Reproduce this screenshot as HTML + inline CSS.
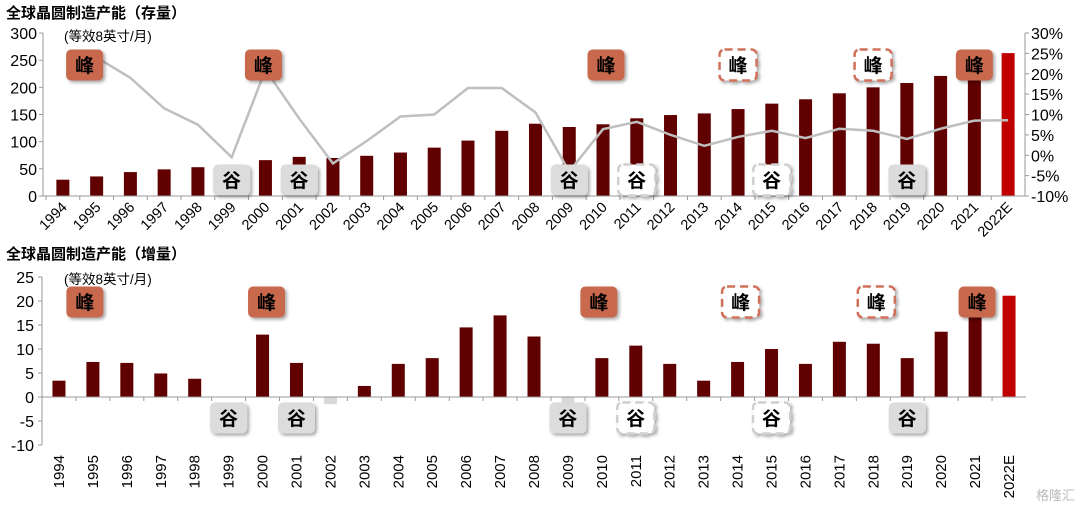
<!DOCTYPE html>
<html><head><meta charset="utf-8">
<style>
body{margin:0;background:#fff;width:1080px;height:508px;overflow:hidden}
svg{display:block;font-family:"Liberation Sans","Noto Sans CJK SC",sans-serif}
</style></head>
<body>
<svg id="c" width="1080" height="508">
<defs>
<filter id="sh" x="-20%" y="-20%" width="150%" height="150%"><feDropShadow dx="2" dy="2" stdDeviation="1.5" flood-color="#000" flood-opacity="0.35"/></filter>
</defs>
<text x="6" y="18" font-size="15" font-weight="bold" fill="#000">全球晶圆制造产能（存量）</text>
<text x="64" y="41" font-size="13.5" fill="#000">(等效8英寸/月)</text>
<text x="6" y="259" font-size="15" font-weight="bold" fill="#000">全球晶圆制造产能（增量）</text>
<text x="64" y="284" font-size="13.5" fill="#000">(等效8英寸/月)</text>
<text x="1075" y="500" font-size="13" fill="#bbb" text-anchor="end">格隆汇</text>
</svg>
<script>
const years=["1994","1995","1996","1997","1998","1999","2000","2001","2002","2003","2004","2005","2006","2007","2008","2009","2010","2011","2012","2013","2014","2015","2016","2017","2018","2019","2020","2021","2022E"];
const stock=[30,36,44,49,53,55,66,72,70,74,80,89,102,120,133,127,132,143,149,152,160,170,178,189,200,208,221,235,263];
const growth=[null,24,19,11.5,7.5,-0.5,21,9,-2,3.5,9.5,10,16.5,16.5,10.5,-4,6.4,8.2,5,2.3,4.5,6,4.2,6.5,6,4,6.5,8.5,8.6];
const incr=[3.4,7.3,7.1,4.9,3.8,0,13,7.1,-1.5,2.3,6.9,8.1,14.5,17,12.6,-1.5,8.1,10.7,6.9,3.4,7.3,10,6.9,11.5,11.1,8.1,13.6,17,21.1];
const leftTicks=[0,50,100,150,200,250,300];
const rightTicks=[-10,-5,0,5,10,15,20,25,30];
const botTicks=[-10,-5,0,5,10,15,20,25];
const peaks=[[1,"solid"],[6,"solid"],[16,"solid"],[20,"dashed"],[24,"dashed"],[27,"solid"]];
const valleys=[[5,"solid"],[7,"solid"],[15,"solid"],[17,"dashed"],[21,"dashed"],[25,"solid"]];

const svg=document.getElementById('c');
const NS='http://www.w3.org/2000/svg';
function mk(t,a,p){const e=document.createElementNS(NS,t);for(const k in a)e.setAttribute(k,a[k]);(p||svg).appendChild(e);return e;}

const T={x0:46,x1:1025,yb:196,yt:33};
const tx=i=>T.x0+(i+0.5)*(T.x1-T.x0)/years.length;
const tyL=v=>T.yb-(v/300)*(T.yb-T.yt);
const tyR=v=>T.yb-((v+10)/40)*(T.yb-T.yt);
const B={x0:42,x1:1026,y0:397,ys:4.8};
const bx=i=>B.x0+(i+0.5)*(B.x1-B.x0)/years.length;
const by=v=>B.y0-v*B.ys;

const gTop=mk('g',{});


const gBot=mk('g',{});



stock.forEach((v,i)=>{
  const r=mk('rect',{x:tx(i)-6.5,y:tyL(v),width:13,height:T.yb-tyL(v),fill:i==years.length-1?'#c00000':'#600000'},gTop);
  
  
});
let d='';growth.forEach((v,i)=>{if(v===null)return;d+=(d?'L':'M')+tx(i)+','+tyR(v);});
const ln=mk('path',{d:d,fill:'none',stroke:'#bfbfbf','stroke-width':2.5},gTop);


mk('line',{x1:T.x0-3,y1:T.yt,x2:T.x0-3,y2:T.yb,stroke:'#999'},gTop);
mk('line',{x1:T.x1,y1:T.yt,x2:T.x1,y2:T.yb,stroke:'#999'},gTop);
const xa=mk('line',{x1:T.x0-3,y1:T.yb,x2:T.x1,y2:T.yb,stroke:'#999'},gTop);


leftTicks.forEach(v=>{
  mk('line',{x1:T.x0-7,x2:T.x0-3,y1:tyL(v),y2:tyL(v),stroke:'#999'},gTop);
  const t=mk('text',{x:T.x0-9,y:tyL(v)+6,'font-size':16,'text-anchor':'end'},gTop);t.textContent=v;
  
  
});
rightTicks.forEach(v=>{
  mk('line',{x1:T.x1,x2:T.x1+4,y1:tyR(v),y2:tyR(v),stroke:'#999'},gTop);
  const t=mk('text',{x:T.x1+6,y:tyR(v)+6,'font-size':16},gTop);t.textContent=v+'%';
  
  
});
years.forEach((y,i)=>{
  const x=T.x0+i*(T.x1-T.x0)/years.length;
  mk('line',{x1:x,x2:x,y1:T.yb,y2:T.yb+4,stroke:'#999'},gTop);
  const t=mk('text',{x:0,y:0,'font-size':14.5,'text-anchor':'end',transform:`translate(${tx(i)+5},${T.yb+12}) rotate(-45)`},gTop);t.textContent=y;
  
  
});

incr.forEach((v,i)=>{
  const col=v<0?'#d9d9d9':(i==years.length-1?'#c00000':'#600000');
  const r=mk('rect',{x:bx(i)-6.5,y:Math.min(by(v),B.y0),width:13,height:Math.abs(v*B.ys),fill:col},gBot);
  
  
});
mk('line',{x1:B.x0,y1:by(25),x2:B.x0,y2:by(-10),stroke:'#999'},gBot);
mk('line',{x1:B.x0,y1:B.y0,x2:B.x1,y2:B.y0,stroke:'#999'},gBot);
botTicks.forEach(v=>{
  mk('line',{x1:B.x0-4,x2:B.x0,y1:by(v),y2:by(v),stroke:'#999'},gBot);
  const t=mk('text',{x:B.x0-8,y:by(v)+6,'font-size':16,'text-anchor':'end'},gBot);t.textContent=v;
  
  
});
years.forEach((y,i)=>{
  const x=B.x0+i*(B.x1-B.x0)/years.length;
  mk('line',{x1:x,x2:x,y1:B.y0,y2:B.y0+4,stroke:'#999'},gBot);
  const t=mk('text',{x:0,y:0,'font-size':15,'text-anchor':'end',transform:`translate(${bx(i)+5},${455}) rotate(-90)`},gBot);t.textContent=y;
  
  
});

function badge(cx,cy,kind,style,g){
  const peak=kind=='峰';
  const w=37,h=31;
  const a={x:cx-w/2,y:cy-h/2,width:w,height:h,rx:5,filter:'url(#sh)'};
  if(style=='solid'){a.fill=peak?'#c8674d':'#dcdcdc';}
  else{a.fill='#fff';a.stroke=peak?'#d0705a':'#cfcfcf';a['stroke-width']=2.5;a['stroke-dasharray']='8,5';}
  const gg=mk('g',{},g);
  
  
  mk('rect',a,gg);
  const t=mk('text',{x:cx,y:cy+7,'font-size':19,'font-weight':'bold','text-anchor':'middle',fill:'#000'},gg);t.textContent=kind;
}
peaks.forEach(([i,s])=>badge(tx(i)+(i==1?-12:i==6?-2:i==16?3:0),65,'峰',s,gTop));
valleys.forEach(([i,s])=>badge(tx(i),180,'谷',s,gTop));
peaks.forEach(([i,s])=>badge(bx(i)+(i==1?-8:i==6?4:i==16?-3:i==27?2:3),302,'峰',s,gBot));
valleys.forEach(([i,s])=>badge(bx(i),418,'谷',s,gBot));
</script>
</body></html>
